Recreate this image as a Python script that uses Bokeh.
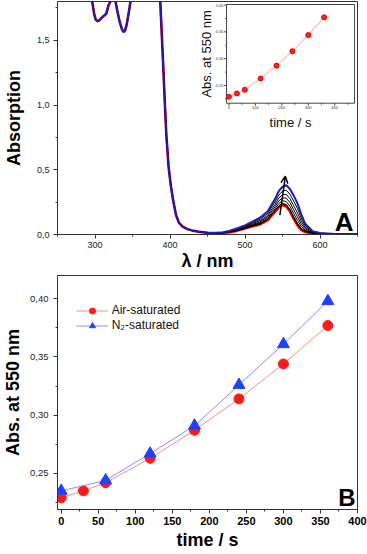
import math
from bokeh.plotting import figure
from bokeh.models import (Range1d, SingleIntervalTicker, CustomJSTickFormatter,
                          Arrow, OpenHead, Legend, LegendItem)
from bokeh.layouts import column
from bokeh.embed import file_html
from bokeh.resources import INLINE
from bokeh.core.properties import value

# ---------------- data ----------------
# UV part of the spectra (common to all curves), nm / absorbance
wl_uv = [250, 270, 290, 294, 296, 299, 301, 303, 306, 309, 312, 315, 318, 321, 324,
         327, 330, 333, 336, 338, 340, 342, 344, 346, 348, 352, 365, 380, 385, 387,
         389, 391, 393, 395, 398, 401, 404, 408, 412, 417, 422, 430, 440, 450, 460]
abs_uv = [2.6, 2.4, 2.0, 1.90, 1.81, 1.70, 1.66, 1.648, 1.655, 1.675, 1.69, 1.705, 1.77,
          1.805, 1.83, 1.81, 1.72, 1.64, 1.585, 1.565, 1.575, 1.615, 1.68, 1.75, 1.83,
          1.98, 2.4, 2.5, 2.2, 1.80, 1.55, 1.30, 1.03, 0.78, 0.53, 0.38, 0.27, 0.15,
          0.09, 0.06, 0.045, 0.03, 0.02, 0.013, 0.011]

# visible band, one list per irradiation time
wl_vis = [470, 480, 490, 500, 510, 520, 530, 540, 545, 550, 555, 560, 565, 570, 575,
          580, 590, 600, 620, 650]
vis_0s = [0.012, 0.018, 0.030, 0.047, 0.063, 0.078, 0.110, 0.175, 0.210, 0.228, 0.217,
          0.178, 0.120, 0.070, 0.036, 0.019, 0.008, 0.004, 0.002, 0.001]
vis_30s = [0.012, 0.019, 0.031, 0.048, 0.065, 0.080, 0.113, 0.180, 0.216, 0.235, 0.225,
           0.186, 0.128, 0.078, 0.041, 0.022, 0.009, 0.004, 0.002, 0.001]
vis_60s = [0.012, 0.019, 0.032, 0.049, 0.066, 0.083, 0.116, 0.184, 0.222, 0.241, 0.232,
           0.194, 0.137, 0.086, 0.047, 0.025, 0.010, 0.005, 0.002, 0.001]
vis_120s = [0.013, 0.021, 0.034, 0.052, 0.072, 0.090, 0.126, 0.198, 0.239, 0.261, 0.254,
            0.218, 0.161, 0.109, 0.063, 0.034, 0.012, 0.006, 0.002, 0.001]
vis_180s = [0.013, 0.023, 0.037, 0.056, 0.077, 0.098, 0.137, 0.214, 0.259, 0.283, 0.281,
            0.246, 0.190, 0.136, 0.082, 0.045, 0.015, 0.007, 0.003, 0.001]
vis_240s = [0.014, 0.025, 0.040, 0.060, 0.084, 0.107, 0.148, 0.232, 0.281, 0.308, 0.309,
            0.276, 0.222, 0.166, 0.103, 0.056, 0.018, 0.009, 0.003, 0.001]
vis_300s = [0.014, 0.027, 0.044, 0.065, 0.091, 0.118, 0.162, 0.251, 0.305, 0.336, 0.341,
            0.311, 0.257, 0.200, 0.127, 0.069, 0.021, 0.010, 0.003, 0.002]
vis_360s = [0.015, 0.030, 0.048, 0.070, 0.100, 0.130, 0.178, 0.275, 0.335, 0.370, 0.380,
            0.352, 0.300, 0.240, 0.155, 0.085, 0.025, 0.012, 0.004, 0.002]

arrow_x = [546.5, 553.8]
arrow_y = [0.15, 0.45]

# kinetics at 550 nm
time_air = [0, 30, 60, 120, 180, 240, 300, 360]
abs550_air = [0.229, 0.235, 0.242, 0.263, 0.287, 0.314, 0.344, 0.377]
time_n2 = [0, 60, 120, 180, 240, 300, 360]
abs550_n2 = [0.235, 0.244, 0.267, 0.291, 0.326, 0.361, 0.398]

inset_xticks = [0, 100, 200, 300, 400]
inset_xlabels = ["0", "100", "200", "300", "400"]
inset_xminor = [50, 150, 250, 350, 450]
inset_yticks = [0.25, 0.30, 0.35, 0.40]
inset_ylabels = ["0,25", "0,30", "0,35", "0,40"]
inset_yminor = [0.225, 0.275, 0.325, 0.375]

# ---------------- styling ----------------
FONT = "Liberation Sans"
AX = "#333333"
W = 367
ML, MR = 53, 10

def style_axes(p):
    for ax in (p.xaxis, p.yaxis):
        ax.axis_line_color = AX
        ax.major_tick_line_color = AX
        ax.minor_tick_line_color = AX
        ax.major_tick_out = 4
        ax.major_tick_in = 0
        ax.minor_tick_out = 2
        ax.minor_tick_in = 0
        ax.major_label_text_font = FONT
        ax.major_label_text_color = "#222222"
        ax.axis_label_text_font = FONT
        ax.axis_label_text_font_style = "bold"
        ax.axis_label_text_font_size = "18px"
        ax.axis_label_text_color = "black"
    p.grid.visible = False
    p.outline_line_color = AX
    p.outline_line_width = 1
    p.background_fill_color = "white"
    p.border_fill_color = "white"

# ---------------- panel A ----------------
H1, MT1, MB1 = 274, 1, 40
FW1, FH1 = W - ML - MR, H1 - MT1 - MB1
p1 = figure(width=W, height=H1, x_range=Range1d(250, 650), y_range=Range1d(0, 1.8),
            output_backend="svg", toolbar_location=None,
            min_border_left=ML, min_border_right=MR, min_border_top=MT1, min_border_bottom=MB1)
style_axes(p1)
p1.xaxis.ticker = SingleIntervalTicker(interval=100, num_minor_ticks=2)
p1.yaxis.ticker = SingleIntervalTicker(interval=0.5, num_minor_ticks=2)
p1.yaxis.formatter = CustomJSTickFormatter(code="return tick.toFixed(1).replace('.', ',');")
p1.xaxis.major_label_text_font_size = "9px"
p1.yaxis.major_label_text_font_size = "9px"
p1.xaxis.major_label_standoff = 3
p1.yaxis.major_label_standoff = 4
p1.xaxis.axis_label = "λ / nm"
p1.yaxis.axis_label = "Absorption"
p1.xaxis.axis_label_standoff = 0
p1.yaxis.axis_label_standoff = 10

curves = [vis_0s, vis_30s, vis_60s, vis_120s, vis_180s, vis_240s, vis_300s, vis_360s]
wl_all = wl_uv + wl_vis
p1.line(wl_all, abs_uv + curves[0], line_color="#ff0000", line_width=2.6)
for c in curves[1:-1]:
    p1.line(wl_all, abs_uv + c, line_color="black", line_width=1)
p1.line(wl_all, abs_uv + curves[-1], line_color="#1c1cb0", line_width=2)

p1.add_layout(Arrow(end=OpenHead(size=7, line_width=1.5, line_color="black"),
                    x_start=arrow_x[0], y_start=arrow_y[0], x_end=arrow_x[1], y_end=arrow_y[1],
                    line_width=1.5, line_color="black"))
p1.text(x=[650], y=[0], text=["A"], x_offset=-4, y_offset=2, text_align="right",
        text_baseline="bottom", text_font=value(FONT), text_font_size=value("26px"),
        text_font_style="bold", text_color="black")

# inset (own scales mapped onto a box inside the frame)
INSET_X = (-9, 475)
INSET_Y = (0.217, 0.401)
box_l, box_r, box_t, box_b = 171.3, 301.0, 3.0, 101.7   # px inside frame
sxp = (INSET_X[1] - INSET_X[0]) / (box_r - box_l)
syp = (INSET_Y[1] - INSET_Y[0]) / (box_b - box_t)
p1.extra_x_ranges = {"ix": Range1d(INSET_X[0] - box_l * sxp, INSET_X[1] + (FW1 - box_r) * sxp)}
p1.extra_y_ranges = {"iy": Range1d(INSET_Y[0] - (FH1 - box_b) * syp, INSET_Y[1] + box_t * syp)}
IR = dict(x_range_name="ix", y_range_name="iy")

p1.quad(left=[INSET_X[0]], right=[INSET_X[1]], bottom=[INSET_Y[0]], top=[INSET_Y[1]],
        fill_color="white", line_color="#444444", line_width=1, **IR)
p1.ray(x=inset_xticks, y=[INSET_Y[0]] * len(inset_xticks), length=2.5, length_units="screen",
       angle=-math.pi / 2, line_color="#444444", line_width=1, **IR)
p1.ray(x=inset_xminor, y=[INSET_Y[0]] * len(inset_xminor), length=1.5, length_units="screen",
       angle=-math.pi / 2, line_color="#444444", line_width=1, **IR)
p1.ray(x=[INSET_X[0]] * len(inset_yticks), y=inset_yticks, length=2.5, length_units="screen",
       angle=math.pi, line_color="#444444", line_width=1, **IR)
p1.ray(x=[INSET_X[0]] * len(inset_yminor), y=inset_yminor, length=1.5, length_units="screen",
       angle=math.pi, line_color="#444444", line_width=1, **IR)
p1.text(x=inset_xticks, y=[INSET_Y[0]] * len(inset_xticks), text=inset_xlabels, y_offset=3,
        text_align="center", text_baseline="top", text_font=value(FONT),
        text_font_size=value("4px"), text_color="#333333", **IR)
p1.text(x=[INSET_X[0]] * len(inset_yticks), y=inset_yticks, text=inset_ylabels, x_offset=-3,
        text_align="right", text_baseline="middle", text_font=value(FONT),
        text_font_size=value("4px"), text_color="#333333", **IR)
p1.text(x=[INSET_X[0]], y=[(INSET_Y[0] + INSET_Y[1]) / 2], text=["Abs. at 550 nm"],
        angle=math.pi / 2, x_offset=-20.5, text_align="center", text_baseline="middle",
        text_font=value(FONT), text_font_size=value("13px"), text_color="#111111", **IR)
p1.text(x=[(INSET_X[0] + INSET_X[1]) / 2], y=[INSET_Y[0]], text=["time / s"], y_offset=19,
        text_align="center", text_baseline="middle", text_font=value(FONT),
        text_font_size=value("13px"), text_color="#111111", **IR)
p1.line(time_air, abs550_air, line_color="#ff9a9a", line_width=1, **IR)
p1.scatter(time_air, abs550_air, size=5, fill_color="#ff2020", line_color="#dd0000", **IR)

# ---------------- panel B ----------------
H2, MT2, MB2 = 279, 1, 44
FH2 = H2 - MT2 - MB2
p2 = figure(width=W, height=H2, x_range=Range1d(-5, 400), y_range=Range1d(0.219, 0.42),
            output_backend="svg", toolbar_location=None,
            min_border_left=ML, min_border_right=MR, min_border_top=MT2, min_border_bottom=MB2)
style_axes(p2)
p2.xaxis.ticker = SingleIntervalTicker(interval=50, num_minor_ticks=2)
p2.yaxis.ticker = SingleIntervalTicker(interval=0.05, num_minor_ticks=2)
p2.yaxis.formatter = CustomJSTickFormatter(code="return tick.toFixed(2).replace('.', ',');")
p2.xaxis.major_label_text_font_size = "11px"
p2.xaxis.major_label_text_font_style = "bold"
p2.xaxis.major_label_text_color = "black"
p2.yaxis.major_label_text_font_size = "9.5px"
p2.xaxis.major_label_standoff = 3
p2.yaxis.major_label_standoff = 5
p2.xaxis.axis_label = "time / s"
p2.yaxis.axis_label = "Abs. at 550 nm"
p2.xaxis.axis_label_standoff = 2
p2.yaxis.axis_label_standoff = 4

la = p2.line(time_air, abs550_air, line_color="#ff8a8a", line_width=1)
sa = p2.scatter(time_air, abs550_air, marker="circle", size=10, fill_color="#ff1a1a",
                line_color="#ff1a1a")
ln = p2.line(time_n2, abs550_n2, line_color="#8a8aff", line_width=1)
sn = p2.scatter(time_n2, abs550_n2, marker="triangle", size=12, fill_color="#2040ff",
                line_color="#2040ff")
legend = Legend(items=[LegendItem(label="Air-saturated", renderers=[la, sa]),
                       LegendItem(label="N₂-saturated", renderers=[ln, sn])],
                location=(18.7, FH2 - 57.5))
legend.border_line_alpha = 0
legend.background_fill_alpha = 0
legend.padding = 0
legend.margin = 0
legend.spacing = 0
legend.glyph_width = 32
legend.glyph_height = 15
legend.label_height = 15
legend.label_standoff = 4
legend.label_text_font = FONT
legend.label_text_font_size = "12px"
legend.label_text_color = "#111111"
p2.add_layout(legend)
p2.text(x=[400], y=[0.219], text=["B"], x_offset=-2, y_offset=1, text_align="right",
        text_baseline="bottom", text_font=value(FONT), text_font_size=value("24px"),
        text_font_style="bold", text_color="black")

layout = column(p1, p2, spacing=0)
open("out.html", "w").write(file_html(layout, INLINE))
